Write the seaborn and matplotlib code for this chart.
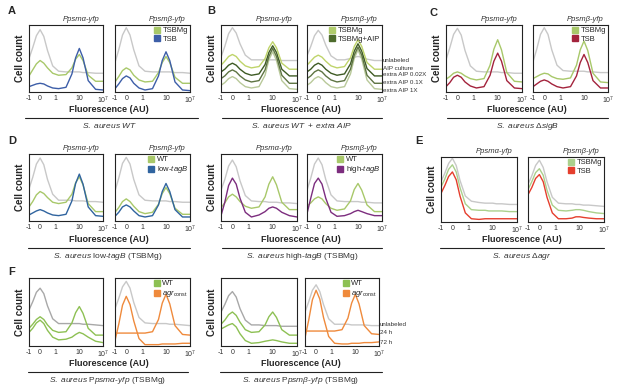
import matplotlib
matplotlib.use("Agg")
import matplotlib.pyplot as plt
import seaborn as sns
from matplotlib.patches import Patch
from matplotlib.lines import Line2D

sns.set_style("white")
plt.rcParams['font.family'] = ['Liberation Sans', 'DejaVu Sans']
plt.rcParams['mathtext.fontset'] = 'custom'
plt.rcParams['mathtext.rm'] = 'Liberation Sans'
plt.rcParams['mathtext.it'] = 'Liberation Sans:italic'
plt.rcParams['mathtext.bf'] = 'Liberation Sans:bold'

# ---- data: cell counts (% of panel height) read along the fluorescence axis ----
fluor_pos = [0, 5, 10, 15, 20, 25, 32, 40, 50, 58, 63, 68, 73, 80, 90, 100]
tick_pos = [0, 15, 36, 68, 100]
tick_labels = ['-1', '0', '1', '10', '10$^{7}$']

# A  S. aureus WT
a1_unlab = [50, 66, 84, 93, 83, 62, 39, 31, 30, 30, 30, 30, 29, 29, 28, 28]
a1_tsbmg = [24, 33, 42, 47, 43, 36, 28, 25, 26, 36, 49, 56, 47, 25, 16, 16]
a1_tsb = [8, 10, 12, 13, 12, 9, 6, 5, 7, 27, 51, 65, 51, 17, 4, 3]
a2_unlab = [44, 63, 85, 96, 85, 63, 39, 31, 30, 30, 30, 30, 30, 29, 29, 28]
a2_tsbmg = [15, 23, 32, 36, 33, 25, 18, 15, 16, 29, 44, 53, 44, 22, 13, 13]
a2_tsb = [5, 12, 20, 24, 21, 13, 6, 3, 5, 24, 47, 60, 47, 15, 3, 2]

# B  WT + extra AIP
b1_unlab = [52, 68, 87, 96, 88, 72, 55, 48, 48, 48, 48, 48, 48, 47, 47, 47]
b1_aip = [40, 46, 53, 56, 53, 46, 39, 36, 38, 50, 66, 75, 66, 43, 34, 34]
b1_x002 = [30, 34, 40, 43, 40, 34, 28, 25, 27, 41, 59, 69, 59, 34, 24, 24]
b1_x01 = [20, 24, 30, 33, 30, 24, 18, 15, 17, 33, 53, 65, 53, 25, 13, 13]
b1_x1 = [10, 14, 20, 23, 20, 14, 8, 6, 8, 25, 48, 60, 47, 17, 5, 4]
b2_unlab = [54, 68, 84, 92, 85, 70, 54, 48, 48, 50, 52, 53, 52, 49, 47, 47]
b2_aip = [40, 46, 52, 55, 52, 46, 39, 36, 38, 51, 68, 78, 68, 44, 34, 34]
b2_x002 = [30, 34, 40, 43, 40, 34, 28, 25, 27, 42, 61, 72, 61, 35, 24, 24]
b2_x01 = [20, 24, 30, 33, 30, 24, 18, 15, 17, 34, 55, 67, 55, 25, 13, 13]
b2_x1 = [10, 14, 20, 23, 20, 14, 8, 6, 8, 27, 50, 63, 49, 18, 5, 4]

# C  delta sigB
c1_unlab = [48, 66, 86, 95, 85, 62, 39, 31, 30, 30, 30, 30, 29, 29, 28, 28]
c1_tsbmg = [19, 23, 28, 30, 28, 24, 20, 18, 20, 40, 64, 78, 63, 29, 16, 15]
c1_tsb = [8, 14, 22, 25, 22, 15, 9, 6, 8, 25, 46, 58, 46, 17, 6, 5]
c2_unlab = [45, 64, 86, 96, 86, 63, 40, 32, 31, 31, 31, 31, 30, 30, 29, 29]
c2_tsbmg = [20, 23, 26, 28, 27, 23, 20, 19, 21, 40, 63, 76, 62, 28, 15, 14]
c2_tsb = [8, 12, 16, 18, 16, 12, 8, 6, 8, 24, 44, 56, 44, 17, 6, 6]

# D  low-tagB / high-tagB
d1_unlab = [48, 65, 85, 94, 84, 62, 40, 31, 31, 31, 30, 30, 30, 29, 29, 28]
d1_wt = [21, 29, 39, 44, 41, 35, 28, 26, 28, 40, 57, 66, 54, 26, 14, 14]
d1_low = [9, 12, 15, 17, 15, 12, 9, 8, 10, 30, 56, 70, 55, 21, 8, 7]
d2_unlab = [45, 64, 86, 95, 85, 62, 39, 31, 30, 30, 30, 30, 29, 29, 28, 28]
d2_wt = [13, 20, 29, 33, 29, 22, 14, 11, 13, 25, 41, 50, 41, 19, 10, 10]
d2_low = [7, 13, 21, 24, 21, 15, 8, 6, 8, 24, 44, 56, 44, 17, 6, 6]
d3_unlab = [46, 62, 82, 91, 81, 60, 38, 30, 29, 29, 28, 28, 28, 27, 27, 26]
d3_wt = [20, 27, 36, 40, 36, 29, 22, 19, 21, 36, 55, 66, 54, 28, 17, 17]
d3_high = [8, 28, 53, 64, 55, 34, 13, 6, 9, 14, 19, 21, 19, 13, 8, 6]
d4_unlab = [46, 64, 85, 94, 84, 62, 39, 30, 29, 29, 29, 29, 28, 28, 27, 27]
d4_wt = [22, 27, 33, 36, 33, 26, 19, 16, 18, 30, 47, 56, 46, 24, 14, 14]
d4_high = [11, 34, 56, 64, 55, 34, 13, 7, 8, 11, 14, 16, 14, 11, 8, 8]

# E  delta agr
e1_unlab = [62, 75, 90, 98, 87, 64, 40, 32, 30, 29, 29, 29, 28, 28, 27, 27]
e1_tsbmg = [54, 66, 81, 88, 77, 53, 28, 19, 18, 18, 17, 17, 17, 17, 16, 16]
e1_tsb = [44, 56, 70, 77, 65, 40, 14, 5, 4, 5, 5, 5, 5, 5, 5, 5]
e2_unlab = [58, 71, 87, 95, 84, 62, 38, 29, 28, 28, 27, 27, 26, 26, 25, 24]
e2_tsbmg = [50, 62, 76, 82, 72, 49, 26, 18, 17, 18, 19, 19, 18, 16, 14, 13]
e2_tsb = [42, 53, 67, 73, 62, 38, 14, 5, 5, 6, 8, 8, 7, 6, 5, 5]

# F  agr const, 24 h / 72 h
f1_unlab = [53, 65, 79, 85, 77, 59, 40, 33, 33, 33, 33, 33, 32, 32, 31, 30]
f1_wt24 = [26, 32, 39, 43, 39, 31, 23, 20, 21, 34, 49, 58, 48, 26, 16, 16]
f1_wt72 = [20, 26, 34, 38, 33, 23, 13, 9, 10, 13, 17, 20, 18, 13, 7, 5]
f2_unlab = [55, 70, 87, 95, 85, 64, 42, 34, 33, 33, 33, 33, 32, 32, 31, 30]
f2_agr24 = [19, 19, 19, 19, 19, 19, 19, 19, 21, 39, 63, 76, 62, 30, 17, 16]
f2_agr72 = [8, 32, 60, 73, 61, 37, 11, 2, 2, 2, 3, 3, 3, 3, 4, 4]
f3_unlab = [50, 61, 74, 80, 72, 55, 38, 31, 31, 30, 30, 30, 30, 29, 29, 29]
f3_wt24 = [32, 38, 46, 50, 45, 35, 24, 20, 21, 31, 43, 50, 42, 24, 16, 16]
f3_wt72 = [25, 28, 31, 33, 28, 18, 8, 4, 5, 7, 8, 9, 8, 6, 4, 4]
f4_unlab = [50, 65, 82, 90, 80, 61, 40, 32, 32, 32, 31, 31, 31, 31, 30, 30]
f4_agr24 = [22, 22, 22, 22, 22, 22, 22, 22, 24, 41, 63, 76, 62, 30, 18, 17]
f4_agr72 = [12, 38, 68, 82, 69, 42, 14, 4, 3, 3, 4, 4, 4, 5, 5, 6]

# colours
GRAY = '#c8c8c8'
GREEN = '#a8c86a'
BLUE = '#3d5ea8'
CRIMSON = '#a3233c'
DBLUE = '#30649f'
PURPLE = '#7c2d7e'
ERED = '#e53e2d'
EGREEN = '#abd08c'
FGRAY = '#a8a8a8'
FGREEN = '#8dc053'
ORANGE = '#ef8a3c'
B_AIP = '#bfd46a'
B_X002 = '#3e5b24'
B_X01 = '#5e7443'
B_X1 = '#b9c99a'

W, H = 617, 390
fig = plt.figure(figsize=(W / 100, H / 100), dpi=100)


def panel(left, top, w, h, curves, title=None, ylabel=False):
    ax = fig.add_axes([left / W, 1 - (top + h) / H, w / W, h / H])
    for vals, col in curves:
        sns.lineplot(x=fluor_pos, y=vals, ax=ax, color=col, lw=1.0, errorbar=None)
    ax.set_xlim(0, 100)
    ax.set_ylim(0, 100)
    ax.set_xticks(tick_pos)
    ax.set_xticklabels(tick_labels, fontsize=5, color='#333333')
    ax.set_yticks([])
    ax.tick_params(axis='x', length=0, pad=2)
    for s in ax.spines.values():
        s.set_linewidth(0.8)
        s.set_color('#222222')
    ax.set_xlabel('')
    ax.set_ylabel('')
    if ylabel:
        ax.set_ylabel('Cell count', fontsize=7, fontweight='bold', labelpad=3)
    if title:
        ax.text(0.7, 1.03, title, transform=ax.transAxes, ha='center',
                va='bottom', fontsize=5.5, style='italic', color='#333333')
    return ax


def legend(ax, items):
    ax.legend(handles=[Patch(color=c, label=l) for l, c in items],
              loc='upper right', frameon=False, fontsize=5.5,
              handlelength=0.8, handleheight=0.8, handletextpad=0.3,
              labelspacing=0.1, borderpad=0.15, borderaxespad=0.1)


def ftext(x, y, s, **kw):
    fig.text(x / W, 1 - y / H, s, **kw)


def hline(x0, x1, y):
    fig.add_artist(Line2D([x0 / W, x1 / W], [1 - y / H, 1 - y / H],
                          color='#222222', lw=0.8))


PA = 'Ppsmα-yfp'
PB = 'Ppsmβ-yfp'

# row 1
panel(29, 25, 74, 67, [(a1_unlab, GRAY), (a1_tsbmg, GREEN), (a1_tsb, BLUE)], PA, True)
ax = panel(115, 25, 75, 67, [(a2_unlab, GRAY), (a2_tsbmg, GREEN), (a2_tsb, BLUE)], PB)
legend(ax, [('TSBMg', GREEN), ('TSB', BLUE)])

panel(221, 25, 76, 67, [(b1_unlab, GRAY), (b1_x1, B_X1), (b1_x01, B_X01),
                        (b1_x002, B_X002), (b1_aip, B_AIP)], PA, True)
ax = panel(307, 25, 75, 67, [(b2_unlab, GRAY), (b2_x1, B_X1), (b2_x01, B_X01),
                             (b2_x002, B_X002), (b2_aip, B_AIP)], PB)
legend(ax, [('TSBMg', '#b0cc6c'), ('TSBMg+AIP', '#4d6b2c')])

panel(446, 25, 76, 67, [(c1_unlab, GRAY), (c1_tsbmg, GREEN), (c1_tsb, CRIMSON)], PA, True)
ax = panel(533, 25, 75, 67, [(c2_unlab, GRAY), (c2_tsbmg, GREEN), (c2_tsb, CRIMSON)], PB)
legend(ax, [('TSBMg', GREEN), ('TSB', CRIMSON)])

# row 2
panel(29, 154, 74, 67, [(d1_unlab, GRAY), (d1_wt, GREEN), (d1_low, DBLUE)], PA, True)
ax = panel(115, 154, 75, 67, [(d2_unlab, GRAY), (d2_wt, GREEN), (d2_low, DBLUE)], PB)
legend(ax, [('WT', GREEN), ('low-$\\it{tagB}$', DBLUE)])
panel(221, 154, 76, 67, [(d3_unlab, GRAY), (d3_wt, GREEN), (d3_high, PURPLE)], PA, True)
ax = panel(307, 154, 75, 67, [(d4_unlab, GRAY), (d4_wt, GREEN), (d4_high, PURPLE)], PB)
legend(ax, [('WT', GREEN), ('high-$\\it{tagB}$', PURPLE)])

panel(441, 157, 76, 65, [(e1_unlab, GRAY), (e1_tsbmg, EGREEN), (e1_tsb, ERED)], PA, True)
ax = panel(528, 157, 76, 65, [(e2_unlab, GRAY), (e2_tsbmg, EGREEN), (e2_tsb, ERED)], PB)
legend(ax, [('TSBMg', EGREEN), ('TSB', ERED)])

# row 3
panel(29, 278, 74, 68, [(f1_unlab, FGRAY), (f1_wt72, FGREEN), (f1_wt24, FGREEN)], None, True)
ax = panel(115, 278, 75, 68, [(f2_unlab, GRAY), (f2_agr24, ORANGE), (f2_agr72, ORANGE)])
legend(ax, [('WT', FGREEN), ('$\\it{agr}_{\\rm const}$', ORANGE)])
panel(221, 278, 76, 68, [(f3_unlab, FGRAY), (f3_wt72, FGREEN), (f3_wt24, FGREEN)], None, True)
ax = panel(305, 278, 74, 68, [(f4_unlab, GRAY), (f4_agr24, ORANGE), (f4_agr72, ORANGE)])
legend(ax, [('WT', FGREEN), ('$\\it{agr}_{\\rm const}$', ORANGE)])

# panel letters
for x, y, s in [(8, 11, 'A'), (207, 11, 'B'), (430, 13, 'C'),
                (8, 141, 'D'), (415, 141, 'E'), (8, 272, 'F')]:
    ftext(x, y, s, fontsize=8, fontweight='bold', ha='left', va='center')

# x labels
for x, y in [(109, 110), (301, 110), (527, 110), (109, 239), (301, 239),
             (522, 240), (109, 364), (301, 364)]:
    ftext(x, y, 'Fluorescence (AU)', fontsize=6.5, fontweight='bold',
          ha='center', va='center')

# strain lines and captions
hline(25, 198, 118)
hline(222, 382, 118)
hline(447, 608, 118)
hline(28, 190, 248)
hline(222, 382, 248)
hline(440, 604, 248)
hline(28, 188, 372)
hline(220, 382, 372)

cap = dict(fontsize=6, ha='center', va='center', color='#333333')
ftext(110, 126, '$\\it{S.\\ aureus}$ $\\it{WT}$', **cap)
ftext(302, 126, '$\\it{S.\\ aureus\\ WT\\ +\\ extra\\ AIP}$', **cap)
ftext(528, 126, '$\\it{S.\\ aureus}$ $\\it{ΔsigB}$', **cap)
ftext(108, 256, '$\\it{S.\\ aureus}$ low-$\\it{tagB}$ (TSBMg)', **cap)
ftext(302, 256, '$\\it{S.\\ aureus}$ high-$\\it{tagB}$ (TSBMg)', **cap)
ftext(522, 256, '$\\it{S.\\ aureus}$ $\\it{Δagr}$', **cap)
ftext(108, 381, '$\\it{S.\\ aureus}$ P$\\it{psmα}$-$\\it{yfp}$ (TSBMg)', **cap)
ftext(301, 381, '$\\it{S.\\ aureus}$ P$\\it{psmβ}$-$\\it{yfp}$ (TSBMg)', **cap)

# side labels
for y, s in [(61, 'unlabeled'), (68, 'AIP culture'), (75, 'extra AIP 0.02X'),
             (82, 'extra AIP 0.1X'), (90, 'extra AIP 1X')]:
    ftext(383, y, s, fontsize=4.5, ha='left', va='center', color='#333333')
for y, s in [(325, 'unlabeled'), (333, '24 h'), (342, '72 h')]:
    ftext(380, y, s, fontsize=4.5, ha='left', va='center', color='#333333')

fig.savefig('out.png', dpi=100)
